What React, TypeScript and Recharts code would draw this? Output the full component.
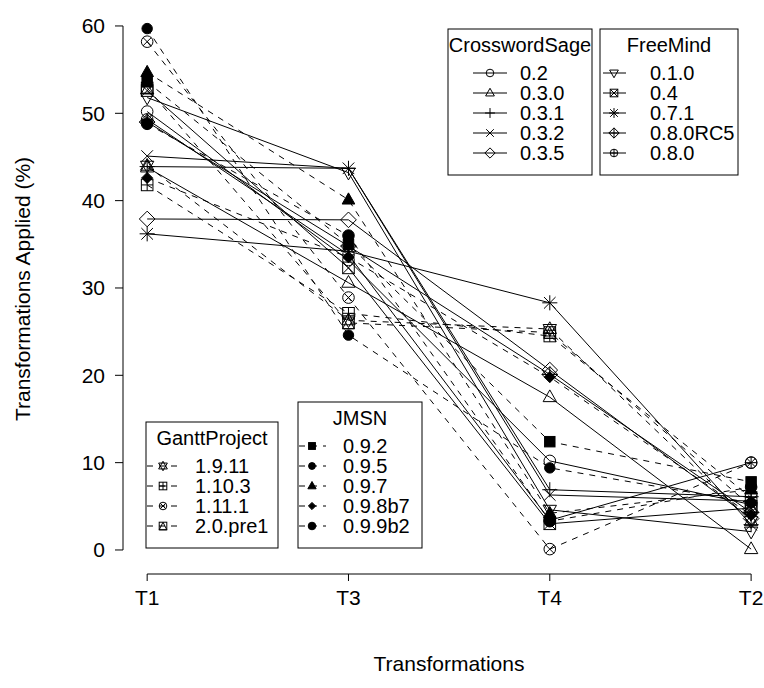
import React from 'react'
import { LineChart, Line, XAxis, YAxis, ReferenceLine, Label } from 'recharts'

const CATEGORIES = ['T1', 'T3', 'T4', 'T2']
const Y_TICKS = [0, 10, 20, 30, 40, 50, 60]

// CrosswordSage (solid)
const cs_0_2 = [50.2, 33.2, 10.2, 5.2]
const cs_0_3_0 = [43.8, 30.6, 17.5, 0.1]
const cs_0_3_1 = [43.9, 43.7, 6.9, 6.1]
const cs_0_3_2 = [45.1, 43.7, 6.3, 5.6]
const cs_0_3_5 = [37.9, 37.8, 20.6, 3.6]

// FreeMind (solid)
const fm_0_1_0 = [51.8, 43.2, 4.6, 2.1]
const fm_0_4 = [52.6, 32.3, 3.0, 4.8]
const fm_0_7_1 = [36.2, 34.2, 28.3, 2.9]
const fm_0_8_0rc5 = [49.0, 34.8, 20.1, 4.3]
const fm_0_8_0 = [49.3, 33.8, 3.4, 10.0]

// GanttProject (dashed)
const gp_1_9_11 = [44.0, 26.3, 25.3, 3.3]
const gp_1_10_3 = [41.8, 27.1, 24.5, 6.0]
const gp_1_11_1 = [58.2, 28.9, 0.1, 10.0]
const gp_2_0_pre1 = [52.9, 26.0, 24.9, 5.0]

// JMSN (dashed)
const jm_0_9_2 = [53.6, 35.0, 12.4, 7.8]
const jm_0_9_5 = [59.7, 24.6, 9.4, 5.4]
const jm_0_9_7 = [54.7, 40.1, 4.2, 6.9]
const jm_0_9_8b7 = [42.6, 33.5, 19.8, 4.0]
const jm_0_9_9b2 = [48.8, 36.0, 3.3, 7.2]

type Shape =
  | 'circle' | 'triangle' | 'plus' | 'cross' | 'diamond'
  | 'triangleDown' | 'boxX' | 'asterisk' | 'diamondPlus' | 'circlePlus'
  | 'star6' | 'boxPlus' | 'circleX' | 'boxTriangle'
  | 'fSquare' | 'fCircle' | 'fTriangle' | 'fDiamond' | 'fCircleBig'

type Series = { key: string; name: string; values: number[]; shape: Shape; dashed: boolean }

const CS_SERIES: Series[] = [
  { key: 'cs1', name: '0.2', values: cs_0_2, shape: 'circle', dashed: false },
  { key: 'cs2', name: '0.3.0', values: cs_0_3_0, shape: 'triangle', dashed: false },
  { key: 'cs3', name: '0.3.1', values: cs_0_3_1, shape: 'plus', dashed: false },
  { key: 'cs4', name: '0.3.2', values: cs_0_3_2, shape: 'cross', dashed: false },
  { key: 'cs5', name: '0.3.5', values: cs_0_3_5, shape: 'diamond', dashed: false },
]
const FM_SERIES: Series[] = [
  { key: 'fm1', name: '0.1.0', values: fm_0_1_0, shape: 'triangleDown', dashed: false },
  { key: 'fm2', name: '0.4', values: fm_0_4, shape: 'boxX', dashed: false },
  { key: 'fm3', name: '0.7.1', values: fm_0_7_1, shape: 'asterisk', dashed: false },
  { key: 'fm4', name: '0.8.0RC5', values: fm_0_8_0rc5, shape: 'diamondPlus', dashed: false },
  { key: 'fm5', name: '0.8.0', values: fm_0_8_0, shape: 'circlePlus', dashed: false },
]
const GP_SERIES: Series[] = [
  { key: 'gp1', name: '1.9.11', values: gp_1_9_11, shape: 'star6', dashed: true },
  { key: 'gp2', name: '1.10.3', values: gp_1_10_3, shape: 'boxPlus', dashed: true },
  { key: 'gp3', name: '1.11.1', values: gp_1_11_1, shape: 'circleX', dashed: true },
  { key: 'gp4', name: '2.0.pre1', values: gp_2_0_pre1, shape: 'boxTriangle', dashed: true },
]
const JM_SERIES: Series[] = [
  { key: 'jm1', name: '0.9.2', values: jm_0_9_2, shape: 'fSquare', dashed: true },
  { key: 'jm2', name: '0.9.5', values: jm_0_9_5, shape: 'fCircle', dashed: true },
  { key: 'jm3', name: '0.9.7', values: jm_0_9_7, shape: 'fTriangle', dashed: true },
  { key: 'jm4', name: '0.9.8b7', values: jm_0_9_8b7, shape: 'fDiamond', dashed: true },
  { key: 'jm5', name: '0.9.9b2', values: jm_0_9_9b2, shape: 'fCircleBig', dashed: true },
]
const ALL_SERIES = [...CS_SERIES, ...FM_SERIES, ...GP_SERIES, ...JM_SERIES]

const data = CATEGORIES.map((c, i) => {
  const row: Record<string, number | string> = { x: i, cat: c }
  ALL_SERIES.forEach((s) => {
    row[s.key] = s.values[i]
  })
  return row
})

const FONT = '"Liberation Sans", Arial, Helvetica, sans-serif'
const DASH = '6 6'
const Y_MIN = -2.75

function Marker({ cx, cy, shape, s }: { cx: number; cy: number; shape: Shape; s: number }) {
  const open = { stroke: '#000', strokeWidth: 1, fill: 'none' }
  const full = { stroke: '#000', strokeWidth: 1, fill: '#000' }
  const triUp = (k = 1) => {
    const h = s * 1.25 * k
    const w = s * 1.15 * k
    return `${cx},${cy - h} ${cx - w},${cy + h * 0.62} ${cx + w},${cy + h * 0.62}`
  }
  const triDown = (k = 1) => {
    const h = s * 1.25 * k
    const w = s * 1.15 * k
    return `${cx},${cy + h} ${cx - w},${cy - h * 0.62} ${cx + w},${cy - h * 0.62}`
  }
  const plus = (r: number) => `M${cx - r},${cy}H${cx + r}M${cx},${cy - r}V${cy + r}`
  const cross = (r: number) => `M${cx - r},${cy - r}L${cx + r},${cy + r}M${cx - r},${cy + r}L${cx + r},${cy - r}`
  const diamond = (r: number) => `${cx},${cy - r} ${cx + r},${cy} ${cx},${cy + r} ${cx - r},${cy}`

  switch (shape) {
    case 'circle':
      return <circle cx={cx} cy={cy} r={s} {...open} />
    case 'triangle':
      return <polygon points={triUp()} {...open} />
    case 'plus':
      return <path d={plus(s * 1.3)} {...open} />
    case 'cross':
      return <path d={cross(s)} {...open} />
    case 'diamond':
      return <polygon points={diamond(s * 1.35)} {...open} />
    case 'triangleDown':
      return <polygon points={triDown()} {...open} />
    case 'boxX':
      return (
        <g>
          <rect x={cx - s} y={cy - s} width={2 * s} height={2 * s} {...open} />
          <path d={cross(s)} {...open} />
        </g>
      )
    case 'asterisk':
      return <path d={plus(s * 1.3) + cross(s)} {...open} />
    case 'diamondPlus':
      return (
        <g>
          <polygon points={diamond(s * 1.35)} {...open} />
          <path d={plus(s * 1.35)} {...open} />
        </g>
      )
    case 'circlePlus':
      return (
        <g>
          <circle cx={cx} cy={cy} r={s} {...open} />
          <path d={plus(s)} {...open} />
        </g>
      )
    case 'star6':
      return (
        <g>
          <polygon points={triUp()} {...open} />
          <polygon points={triDown()} {...open} />
        </g>
      )
    case 'boxPlus':
      return (
        <g>
          <rect x={cx - s} y={cy - s} width={2 * s} height={2 * s} {...open} />
          <path d={plus(s)} {...open} />
        </g>
      )
    case 'circleX':
      return (
        <g>
          <circle cx={cx} cy={cy} r={s} {...open} />
          <path d={cross(s * 0.72)} {...open} />
        </g>
      )
    case 'boxTriangle':
      return (
        <g>
          <rect x={cx - s} y={cy - s} width={2 * s} height={2 * s} {...open} />
          <polygon points={`${cx},${cy - s} ${cx - s},${cy + s} ${cx + s},${cy + s}`} {...open} />
        </g>
      )
    case 'fSquare':
      return <rect x={cx - s * 0.9} y={cy - s * 0.9} width={1.8 * s} height={1.8 * s} {...full} />
    case 'fCircle':
      return <circle cx={cx} cy={cy} r={s * 0.9} {...full} />
    case 'fTriangle':
      return <polygon points={triUp(0.95)} {...full} />
    case 'fDiamond':
      return <polygon points={diamond(s * 0.95)} {...full} />
    case 'fCircleBig':
      return <circle cx={cx} cy={cy} r={s} {...full} />
  }
  return null
}

type BoxProps = {
  x: number
  y: number
  w: number
  h: number
  title: string
  titleY: number
  rows: Series[]
  rowY0: number
  rowStep: number
  lineFrom: number
  lineTo: number
  markerX: number
  textX: number
}

function LegendBox(p: BoxProps) {
  return (
    <g>
      <rect x={p.x} y={p.y} width={p.w} height={p.h} fill="#fff" stroke="#000" strokeWidth={1} />
      <text x={p.x + p.w / 2} y={p.titleY} textAnchor="middle" dominantBaseline="central" fontSize={20} fontFamily={FONT}>
        {p.title}
      </text>
      {p.rows.map((s, i) => {
        const y = p.rowY0 + i * p.rowStep
        return (
          <g key={s.key}>
            <line
              x1={p.lineFrom}
              x2={p.lineTo}
              y1={y}
              y2={y}
              stroke="#000"
              strokeWidth={1}
              strokeDasharray={s.dashed ? DASH : undefined}
            />
            <Marker cx={p.markerX} cy={y} shape={s.shape} s={3.8} />
            <text x={p.textX} y={y} dominantBaseline="central" fontSize={20} fontFamily={FONT}>
              {s.name}
            </text>
          </g>
        )
      })}
    </g>
  )
}

export default function App() {
  return (
    <div style={{ position: 'relative', width: 764, height: 688, background: '#fff' }}>
      <style>{'body{margin:0}'}</style>
      <LineChart width={764} height={688} data={data} margin={{ top: 5, right: 0, bottom: 0, left: 0 }}>
        <XAxis
          dataKey="x"
          type="number"
          domain={[-0.12, 3.064]}
          ticks={[0, 1, 2, 3]}
          tickFormatter={(v: number) => CATEGORIES[v]}
          allowDataOverflow
          axisLine={false}
          tickLine={{ stroke: '#000' }}
          tickSize={7}
          tickMargin={9}
          height={114}
          tick={{ fill: '#000', fontSize: 21, fontFamily: FONT }}
        >
          <Label
            content={() => (
              <text x={449} y={663} textAnchor="middle" dominantBaseline="central" fontSize={21} fontFamily={FONT}>
                Transformations
              </text>
            )}
          />
        </XAxis>
        <YAxis
          type="number"
          domain={[Y_MIN, 62.4]}
          ticks={Y_TICKS}
          allowDataOverflow
          axisLine={false}
          tickLine={{ stroke: '#000' }}
          tickSize={8}
          tickMargin={10}
          width={123}
          tick={{ fill: '#000', fontSize: 21, fontFamily: FONT }}
        >
          <Label
            content={() => (
              <text
                x={22}
                y={289}
                transform="rotate(-90 22 289)"
                textAnchor="middle"
                dominantBaseline="central"
                fontSize={21}
                fontFamily={FONT}
              >
                Transformations Applied (%)
              </text>
            )}
          />
        </YAxis>
        <ReferenceLine
          segment={[{ x: -0.12, y: 0 }, { x: -0.12, y: 60 }]}
          stroke="#000"
          strokeWidth={1}
          ifOverflow="visible"
        />
        <ReferenceLine
          segment={[{ x: 0, y: Y_MIN }, { x: 3, y: Y_MIN }]}
          stroke="#000"
          strokeWidth={1}
          ifOverflow="visible"
        />
        {ALL_SERIES.map((s) => (
          <Line
            key={s.key}
            dataKey={s.key}
            type="linear"
            stroke="#000"
            strokeWidth={1}
            strokeDasharray={s.dashed ? DASH : undefined}
            isAnimationActive={false}
            activeDot={false}
            dot={(p: any) => <Marker key={`${s.key}-${p.index}`} cx={p.cx} cy={p.cy} shape={s.shape} s={5.8} />}
          />
        ))}
      </LineChart>
      <svg width={764} height={688} style={{ position: 'absolute', left: 0, top: 0, pointerEvents: 'none' }}>
        <LegendBox
          x={448} y={29} w={144} h={146} title="CrosswordSage" titleY={45}
          rows={CS_SERIES} rowY0={73} rowStep={20}
          lineFrom={473} lineTo={507} markerX={490} textX={520}
        />
        <LegendBox
          x={600} y={29} w={138} h={146} title="FreeMind" titleY={45}
          rows={FM_SERIES} rowY0={73} rowStep={20}
          lineFrom={603} lineTo={626} markerX={614} textX={650}
        />
        <LegendBox
          x={146} y={422} w={132} h={126} title="GanttProject" titleY={438}
          rows={GP_SERIES} rowY0={466} rowStep={20}
          lineFrom={147} lineTo={179} markerX={163} textX={195}
        />
        <LegendBox
          x={298} y={402} w={124} h={146} title="JMSN" titleY={418}
          rows={JM_SERIES} rowY0={446} rowStep={20}
          lineFrom={299} lineTo={326} markerX={312} textX={343}
        />
      </svg>
    </div>
  )
}
